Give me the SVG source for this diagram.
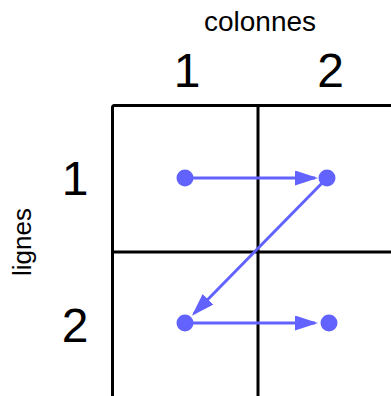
<svg xmlns="http://www.w3.org/2000/svg" width="391" height="396" viewBox="0 0 391 396">
<defs>
<style>
.grid{fill:none;stroke:#000;stroke-width:3}
.lbl{font-family:"Liberation Sans",Arial,sans-serif;fill:#000}
.big{font-size:48px;text-anchor:middle}
.small{font-size:26px;text-anchor:middle}
.dot{fill:#6262ff}
.arr{stroke:#6262ff;stroke-width:3;fill:none;marker-end:url(#ah)}
</style>
<marker id="ah" markerUnits="userSpaceOnUse" markerWidth="24" markerHeight="16" refX="20" refY="7.5" orient="auto" viewBox="0 0 24 16">
<path d="M0,0 L23,7.5 L0,15 z" fill="#6262ff"/>
</marker>
</defs>
<rect width="391" height="396" fill="#fff"/>
<g id="grid">
<rect class="grid" x="112.5" y="105.5" width="320" height="320" rx="2"/>
<line class="grid" x1="258" y1="105.5" x2="258" y2="396"/>
<line class="grid" x1="112.5" y1="252" x2="391" y2="252"/>
</g>
<g id="labels">
<text class="lbl small" x="260" y="31" style="font-size:28px">colonnes</text>
<text class="lbl big" x="187" y="87">1</text>
<text class="lbl big" x="330.5" y="87">2</text>
<text class="lbl big" x="75" y="195">1</text>
<text class="lbl big" x="75" y="342">2</text>
<text class="lbl small" transform="translate(31,242) rotate(-90)" x="0" y="0">lignes</text>
</g>
<g id="n11"><circle class="dot" cx="185" cy="178" r="8.5"/></g>
<g id="n12"><circle class="dot" cx="327" cy="178" r="8.5"/></g>
<g id="n21"><circle class="dot" cx="185" cy="323" r="8.5"/></g>
<g id="n22"><circle class="dot" cx="329" cy="323" r="8.5"/></g>
<g id="connectors">
<line class="arr" x1="185" y1="178" x2="315" y2="178"/>
<line class="arr" x1="327" y1="178" x2="194" y2="313.5"/>
<line class="arr" x1="185" y1="323" x2="315" y2="323"/>
</g>
</svg>
